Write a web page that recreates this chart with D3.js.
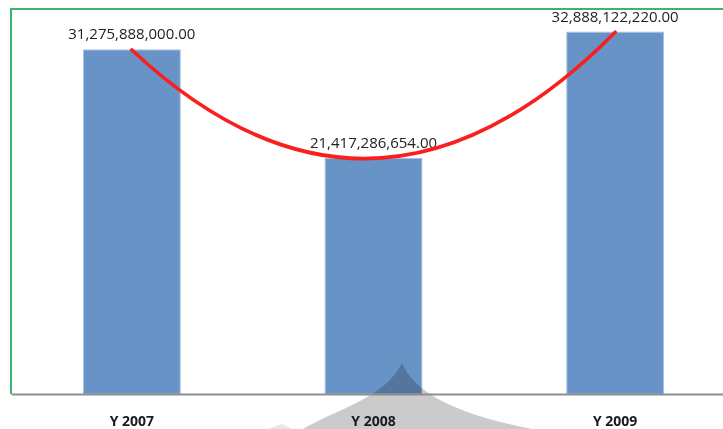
<!DOCTYPE html>
<html>
<head>
<meta charset="utf-8">
<script src="https://cdn.jsdelivr.net/npm/d3@7/dist/d3.min.js"></script>
<style>
  html, body { margin: 0; padding: 0; background: #ffffff; }
  svg { display: block; }
</style>
</head>
<body>
<svg id="chart" width="723" height="429"></svg>
<script>
// Yearly totals
const categories = ["Y 2007", "Y 2008", "Y 2009"];
const values = [31275888000.00, 21417286654.00, 32888122220.00];
const valueAxisMax = 35000000000;

const W = 723, H = 429;
const plot = { left: 11, top: 9, right: 736, bottom: 394 };

const svg = d3.select("#chart");

const x = d3.scaleBand()
  .domain(categories)
  .range([plot.left, plot.right])
  .paddingInner(0.6)
  .paddingOuter(0.3);

const y = d3.scaleLinear()
  .domain([0, valueAxisMax])
  .range([plot.bottom, plot.top]);

const fmt = d3.format(",.2f");
const labelFont = "'Open Sans', 'Noto Sans', Arial, sans-serif";

// plot frame (left and top edges)
svg.append("line")
  .attr("x1", plot.left).attr("x2", plot.left)
  .attr("y1", plot.top - 1).attr("y2", plot.bottom)
  .attr("stroke", "#3cb371").attr("stroke-width", 2);
svg.append("line")
  .attr("x1", plot.left - 1).attr("x2", W)
  .attr("y1", plot.top).attr("y2", plot.top)
  .attr("stroke", "#3cb371").attr("stroke-width", 2);

// bars
svg.append("g").selectAll("rect")
  .data(values)
  .join("rect")
  .attr("x", (d, i) => x(categories[i]))
  .attr("y", d => y(d))
  .attr("width", x.bandwidth())
  .attr("height", d => y(0) - y(d))
  .attr("fill", "#6893c7")
  .attr("stroke", "#a9c2e2")
  .attr("stroke-width", 1);

// faint emblem in the lower part of the page
svg.append("path")
  .attr("d", "M303,429 C335,410 385,398 402,363 C414,392 455,414 532,429 Z")
  .attr("fill", "#cbcbcb")
  .style("mix-blend-mode", "multiply");
svg.append("path")
  .attr("d", "M268,429 L282,424 L292,429 Z")
  .attr("fill", "#e6e6e6");

// category axis
const axis = svg.append("g")
  .attr("transform", `translate(0,${plot.bottom})`)
  .call(d3.axisBottom(x).tickSize(0).tickPadding(22));
axis.select(".domain")
  .attr("stroke", "#8e8e8e")
  .attr("stroke-width", 2);
axis.selectAll(".tick text")
  .attr("font-family", labelFont)
  .attr("font-size", 14)
  .attr("font-weight", "bold")
  .attr("fill", "#1a1a1a");

// value labels
svg.append("g").selectAll("text")
  .data(values)
  .join("text")
  .attr("x", (d, i) => x(categories[i]) + x.bandwidth() / 2)
  .attr("y", d => y(d) - 10.5)
  .attr("text-anchor", "middle")
  .attr("font-family", labelFont)
  .attr("font-size", 15)
  .attr("fill", "#222222")
  .text(d => fmt(d));

// trend curve: the parabola through the three bar tops
const pts = values.map((v, i) => [x(categories[i]) + x.bandwidth() / 2, y(v)]);
const ctrl = [
  2 * pts[1][0] - (pts[0][0] + pts[2][0]) / 2,
  2 * pts[1][1] - (pts[0][1] + pts[2][1]) / 2
];
const p = d3.path();
p.moveTo(pts[0][0], pts[0][1]);
p.quadraticCurveTo(ctrl[0], ctrl[1], pts[2][0], pts[2][1]);
svg.append("path")
  .attr("d", p.toString())
  .attr("fill", "none")
  .attr("stroke", "#fa1e1e")
  .attr("stroke-width", 3.6)
  .attr("stroke-linecap", "round");
</script>
</body>
</html>
